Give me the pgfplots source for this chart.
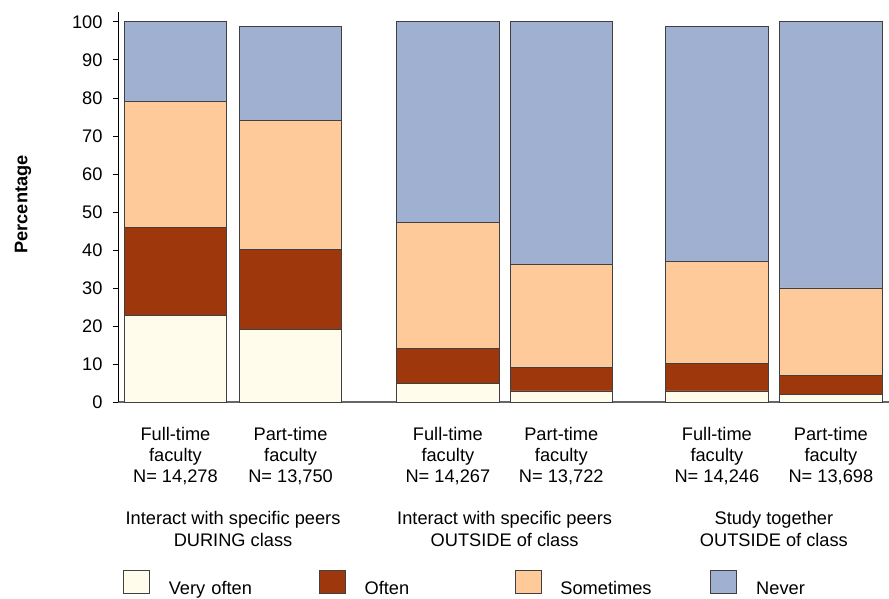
\documentclass[border=0pt]{standalone}
\usepackage{pgfplots}
\usepackage{pgfplotstable}
\pgfplotsset{compat=1.18}
\usepackage{fontspec}
\setmainfont{Liberation Sans}
\definecolor{cVO}{RGB}{255,252,236}
\definecolor{cOF}{RGB}{158,56,12}
\definecolor{cSO}{RGB}{255,202,153}
\definecolor{cNE}{RGB}{160,176,208}
\pgfplotstableread{
x vo of so ne
0 22.8 23.2 33.1 20.9
1.01 19.1 21.1 33.9 24.8
2.39 4.8 9.3 33.1 52.8
3.385 2.9 6.2 27.0 63.9
4.75 2.9 7.2 26.9 61.9
5.75 1.9 5.2 22.9 70.0
}\datatable
\begin{document}
\begin{tikzpicture}[font=\fontsize{18.3}{22}\selectfont]
\useasboundingbox (0,0) rectangle (889bp,599bp);
\begin{axis}[
  at={(118bp,197bp)}, anchor=south west,
  scale only axis, width=771bp, height=390bp,
  xmin=-0.504, xmax=6.26, ymin=0, ymax=102.6,
  clip=false,
  ybar stacked, bar width=0.9,
  axis x line*=bottom, axis y line*=left,
  x axis line style={draw=black!60, line width=1.2bp},
  y axis line style={black, line width=0.8bp},
  ytick={0,10,...,100},
  xtick={0,1.01,2.39,3.385,4.75,5.75},
  xticklabels={{Full-time\\faculty\\N= 14,278},{Part-time\\faculty\\N= 13,750},{Full-time\\faculty\\N= 14,267},{Part-time\\faculty\\N= 13,722},{Full-time\\faculty\\N= 14,246},{Part-time\\faculty\\N= 13,698}},
  xtick style={draw=none},
  ytick style={black, line width=0.8bp},
  major tick length=5bp, tick align=outside,
  /pgf/number format/assume math mode=true,
  tick label style={font=\fontsize{18.3}{22}\selectfont},
  xticklabel style={align=center, yshift=-17bp, font=\fontsize{18.3}{21}\selectfont},
  yticklabel style={xshift=-7bp},
  ylabel={Percentage},
  every axis y label/.style={at={(rel axis cs:0,0.5)}, xshift=-95bp, yshift=2.5bp, rotate=90, anchor=center, font=\fontsize{18.3}{22}\selectfont\bfseries},
  legend columns=4,
  legend style={at={(0.0065,-0.4641)}, anchor=west, draw=none, fill=none, inner sep=0pt, outer sep=0pt,
    font=\fontsize{18.3}{22}\selectfont,
    /tikz/every odd column/.append style={column sep=19bp},
    /tikz/every even column/.append style={column sep=0bp},
    nodes={inner sep=0pt, text width=150bp, yshift=5bp}},
  legend cell align=left,
  legend image code/.code={\draw[#1, line width=0.8bp] (0bp,0bp) rectangle (26bp,23bp);},
]
\addplot[fill=cVO, draw=black!75, line width=0.8bp] table[x=x,y=vo]{\datatable};
\addplot[fill=cOF, draw=black!75, line width=0.8bp] table[x=x,y=of]{\datatable};
\addplot[fill=cSO, draw=black!75, line width=0.8bp] table[x=x,y=so]{\datatable};
\addplot[fill=cNE, draw=black!75, line width=0.8bp] table[x=x,y=ne]{\datatable};
\legend{Very often, Often, Sometimes, Never}
\node[align=center, anchor=north, yshift=-106bp] at (axis cs:0.505,0) {Interact with specific peers\\DURING class};
\node[align=center, anchor=north, yshift=-106bp] at (axis cs:2.888,0) {Interact with specific peers\\OUTSIDE of class};
\node[align=center, anchor=north, yshift=-106bp] at (axis cs:5.25,0) {Study together\\OUTSIDE of class};
\end{axis}
\end{tikzpicture}
\end{document}
